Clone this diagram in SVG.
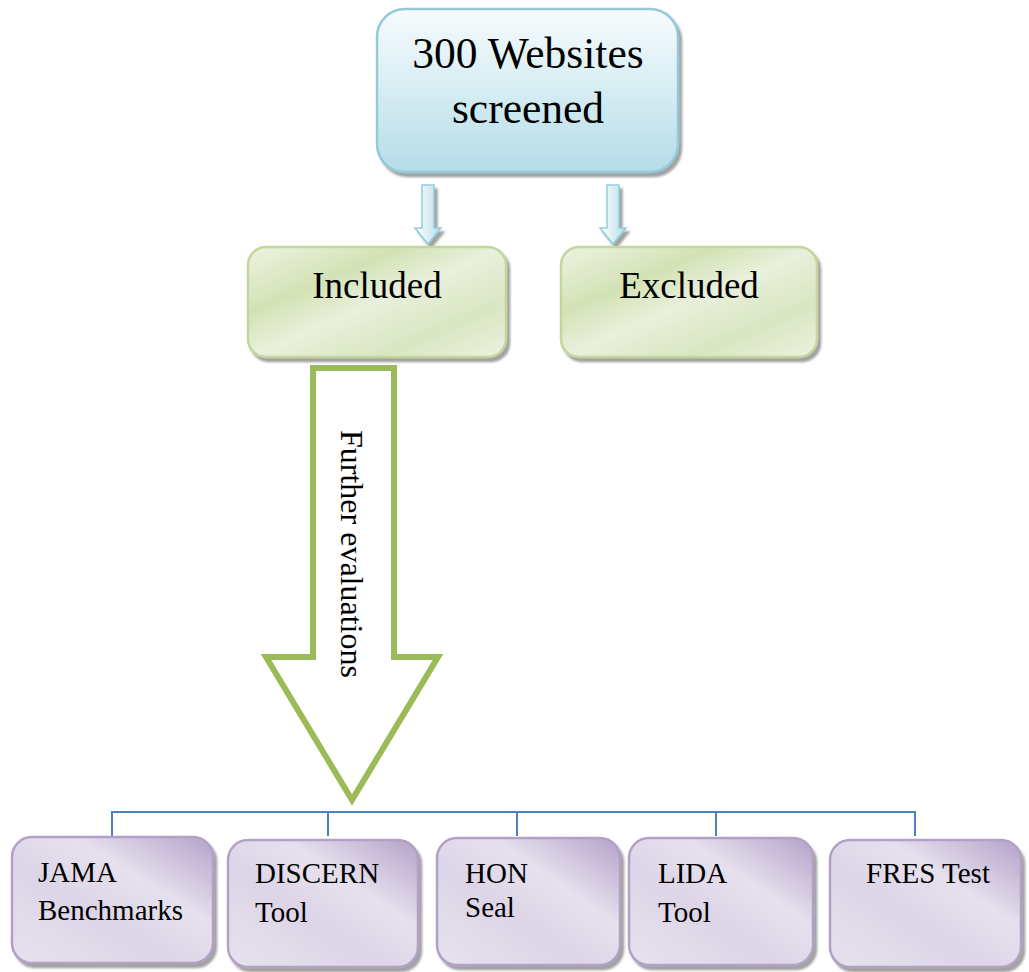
<svg xmlns="http://www.w3.org/2000/svg" width="1029" height="972" viewBox="0 0 1029 972">
<defs>
<linearGradient id="gBlue" x1="0" y1="0" x2="0" y2="1">
<stop offset="0" stop-color="#f7fbfd"/>
<stop offset="0.5" stop-color="#d6edf3"/>
<stop offset="1" stop-color="#b5dce7"/>
</linearGradient>
<linearGradient id="gArrow" x1="0" y1="0" x2="1" y2="0">
<stop offset="0" stop-color="#ffffff"/>
<stop offset="1" stop-color="#b7dde8"/>
</linearGradient>
<linearGradient id="gGreen" x1="0" y1="0" x2="1" y2="1">
<stop offset="0" stop-color="#eef3e2"/>
<stop offset="0.3" stop-color="#d3e2b5"/>
<stop offset="0.5" stop-color="#e9f0dc"/>
<stop offset="0.75" stop-color="#d9e6c1"/>
<stop offset="1" stop-color="#ecf2e0"/>
</linearGradient>
<linearGradient id="gPurple" x1="1" y1="0" x2="0" y2="1">
<stop offset="0" stop-color="#b3a2c8"/>
<stop offset="0.35" stop-color="#e6e0ee"/>
<stop offset="0.6" stop-color="#ddd5e7"/>
<stop offset="1" stop-color="#e7e2ee"/>
</linearGradient>
<filter id="sh" x="-10%" y="-10%" width="130%" height="130%">
<feDropShadow dx="3" dy="4" stdDeviation="1.2" flood-color="#707070" flood-opacity="0.65"/>
</filter>
<style>
.t{font-family:"Liberation Serif","Times New Roman",serif;fill:#000}
.blue{fill:url(#gBlue);stroke:#93c9da;stroke-width:2.5}
.green{fill:url(#gGreen);stroke:#c3d69b;stroke-width:2.5}
.purple{fill:url(#gPurple);stroke:#b2a1c7;stroke-width:2.5}
.sarrow{fill:url(#gArrow);stroke:#93cddd;stroke-width:1.5}
.conn{fill:none;stroke:#4f81bd;stroke-width:2}
</style>
</defs>
<g id="screened">
<rect x="377" y="9" width="301" height="163" rx="28" class="blue" filter="url(#sh)"/>
<text class="t" x="528" y="68" font-size="43.5" text-anchor="middle">300 Websites</text>
<text class="t" x="528" y="123" font-size="43.5" text-anchor="middle">screened</text>
</g>
<g id="connectors">
<path class="sarrow" filter="url(#sh)" d="M422,185 H434 V228 H441 L428,244 L415,228 H422 Z"/>
<path class="sarrow" filter="url(#sh)" d="M607,185 H619 V228 H626 L613,244 L600,228 H607 Z"/>
<path class="conn" d="M112,836 V812 H915 V836 M328,812 V836 M517,812 V836 M716,812 V836"/>
</g>
<g id="included">
<rect x="248" y="247" width="258" height="110" rx="18" class="green" filter="url(#sh)"/>
<text class="t" x="377" y="298" font-size="37" text-anchor="middle">Included</text>
</g>
<g id="excluded">
<rect x="561" y="247" width="256" height="110" rx="18" class="green" filter="url(#sh)"/>
<text class="t" x="689" y="298" font-size="37" text-anchor="middle">Excluded</text>
</g>
<g id="further">
<path d="M313,368 H394 V657 H438 L352,800 L266,657 H313 Z" fill="#ffffff" stroke="#9bbb59" stroke-width="6" stroke-linejoin="miter"/>
<text class="t" font-size="32" transform="translate(341,430) rotate(90)">Further evaluations</text>
</g>
<g id="jama">
<rect x="12" y="837" width="201" height="126" rx="20" class="purple" filter="url(#sh)"/>
<text class="t" x="38" y="882" font-size="29">JAMA</text>
<text class="t" x="38" y="920" font-size="29">Benchmarks</text>
</g>
<g id="discern">
<rect x="228" y="840" width="190" height="127" rx="20" class="purple" filter="url(#sh)"/>
<text class="t" x="255" y="883" font-size="29">DISCERN</text>
<text class="t" x="255" y="922" font-size="29">Tool</text>
</g>
<g id="hon">
<rect x="437" y="838" width="183" height="127" rx="20" class="purple" filter="url(#sh)"/>
<text class="t" x="465" y="883" font-size="29">HON</text>
<text class="t" x="465" y="917" font-size="29">Seal</text>
</g>
<g id="lida">
<rect x="629" y="838" width="184" height="127" rx="20" class="purple" filter="url(#sh)"/>
<text class="t" x="658" y="883" font-size="29">LIDA</text>
<text class="t" x="658" y="922" font-size="29">Tool</text>
</g>
<g id="fres">
<rect x="830" y="840" width="191" height="127" rx="20" class="purple" filter="url(#sh)"/>
<text class="t" x="866" y="883" font-size="29">FRES Test</text>
</g>
</svg>
